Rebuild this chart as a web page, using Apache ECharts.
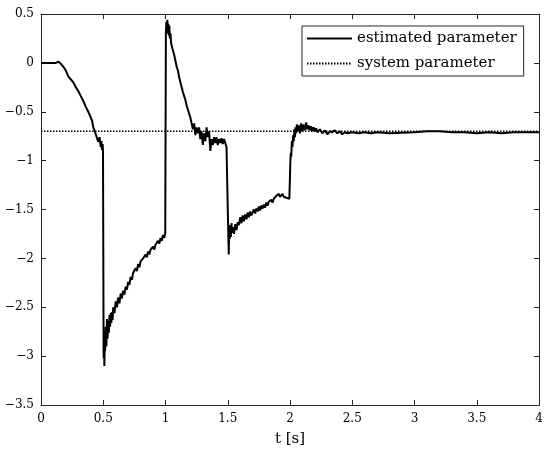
<!DOCTYPE html>
<html>
<head>
<meta charset="utf-8">
<script src="https://cdn.jsdelivr.net/npm/echarts@6/dist/echarts.min.js"></script>
<style>
  html, body { margin: 0; padding: 0; background: #fff; }
  #ec { width: 550px; height: 457px; }
</style>
</head>
<body>
<div id="ec"></div>
<script>
  // time samples [s]
  var tSec = [
    0, 0.05, 0.1, 0.12, 0.13, 0.14, 0.15, 0.16, 0.17, 0.18, 0.19,
    0.20, 0.21, 0.22, 0.23, 0.24, 0.25, 0.26, 0.27, 0.28, 0.29,
    0.30, 0.31, 0.32, 0.33, 0.34, 0.35, 0.36, 0.37, 0.38, 0.39,
    0.40, 0.41, 0.42, 0.43, 0.44, 0.45, 0.46, 0.47, 0.48, 0.485, 0.49, 0.495, 0.498,
    0.503, 0.506, 0.509, 0.512, 0.515, 0.52, 0.525, 0.53, 0.535, 0.54, 0.545, 0.55, 0.555,
    0.56, 0.565, 0.57, 0.575, 0.58, 0.59,
    0.60, 0.61, 0.62, 0.63, 0.64, 0.65, 0.66, 0.67, 0.68, 0.69,
    0.70, 0.71, 0.72, 0.73, 0.74, 0.75, 0.76, 0.77, 0.78, 0.79,
    0.80, 0.81, 0.82, 0.83, 0.84, 0.85, 0.86, 0.87, 0.88, 0.89,
    0.90, 0.91, 0.92, 0.93, 0.94, 0.95, 0.96, 0.97, 0.98, 0.99, 0.998,
    1.003, 1.007, 1.011, 1.015, 1.019, 1.023, 1.027, 1.031, 1.035, 1.04, 1.045, 1.05, 1.055,
    1.06, 1.07, 1.08, 1.09, 1.10, 1.11, 1.12, 1.13, 1.14, 1.15, 1.16, 1.17, 1.18, 1.19,
    1.20, 1.21, 1.22, 1.23, 1.24, 1.25, 1.26, 1.27, 1.28, 1.29,
    1.30, 1.31, 1.32, 1.33, 1.34, 1.35, 1.36, 1.37, 1.38, 1.39,
    1.40, 1.41, 1.42, 1.43, 1.44, 1.45, 1.46, 1.47, 1.48, 1.49, 1.498,
    1.505, 1.508, 1.512, 1.516, 1.52, 1.525, 1.53, 1.535, 1.54, 1.55, 1.56, 1.57, 1.58, 1.59,
    1.60, 1.61, 1.62, 1.63, 1.64, 1.65, 1.66, 1.67, 1.68, 1.69,
    1.70, 1.71, 1.72, 1.73, 1.74, 1.75, 1.76, 1.77, 1.78, 1.79,
    1.80, 1.81, 1.82, 1.83, 1.84, 1.85, 1.86, 1.87, 1.88, 1.89,
    1.90, 1.91, 1.92, 1.93, 1.94, 1.95, 1.96, 1.97, 1.98, 1.995,
    2.002, 2.006, 2.01, 2.015, 2.02, 2.025, 2.03, 2.035, 2.04, 2.045, 2.05, 2.055,
    2.06, 2.07, 2.08, 2.09, 2.10, 2.11, 2.12, 2.13, 2.14, 2.15, 2.16, 2.17, 2.18, 2.19,
    2.20, 2.21, 2.22, 2.24, 2.26, 2.28, 2.30, 2.32, 2.34, 2.36, 2.38,
    2.40, 2.42, 2.44, 2.46, 2.5, 2.55, 2.6, 2.65, 2.7, 2.8, 2.9,
    3.0, 3.1, 3.2, 3.3, 3.4, 3.5, 3.6, 3.7, 3.8, 3.9, 4.0
  ]

  // estimated parameter
  var estParam = [
    0, 0, 0, 0, 0.005, 0.012, 0.0, -0.01, -0.03, -0.04, -0.06,
    -0.08, -0.10, -0.14, -0.12, -0.17, -0.16, -0.20, -0.21, -0.25, -0.24,
    -0.29, -0.30, -0.34, -0.35, -0.39, -0.41, -0.45, -0.46, -0.50, -0.52,
    -0.56, -0.59, -0.66, -0.69, -0.73, -0.74, -0.81, -0.76, -0.86, -0.80, -0.89, -0.83, -0.90,
    -3.02, -2.75, -3.10, -2.85, -2.95, -2.70, -2.90, -2.62, -2.82, -2.64, -2.76, -2.58, -2.70,
    -2.56, -2.66, -2.55, -2.63, -2.50, -2.56,
    -2.44, -2.50, -2.40, -2.46, -2.36, -2.41, -2.33, -2.37, -2.29, -2.32,
    -2.24, -2.27, -2.19, -2.22, -2.15, -2.17, -2.10, -2.13, -2.06, -2.09,
    -2.03, -2.05, -2.00, -2.02, -1.96, -1.99, -1.93, -1.96, -1.91, -1.93,
    -1.88, -1.91, -1.86, -1.88, -1.82, -1.85, -1.79, -1.82, -1.76, -1.79, -1.74,
    0.30, 0.42, 0.35, 0.44, 0.30, 0.40, 0.28, 0.38, 0.25, 0.30, 0.20, 0.22, 0.15,
    0.14, 0.08, 0.02, -0.04, -0.08, -0.15, -0.20, -0.25, -0.30, -0.34, -0.38, -0.44, -0.48, -0.52,
    -0.56, -0.62, -0.68, -0.62, -0.74, -0.66, -0.72, -0.66, -0.78, -0.70,
    -0.84, -0.72, -0.80, -0.66, -0.76, -0.70, -0.90, -0.78, -0.84, -0.76,
    -0.82, -0.76, -0.84, -0.78, -0.82, -0.77, -0.83, -0.78, -0.82, -0.86, -0.84,
    -1.80, -1.96, -1.66, -1.80, -1.70, -1.78, -1.64, -1.74, -1.68, -1.75, -1.65, -1.71, -1.63, -1.66,
    -1.58, -1.64, -1.56, -1.62, -1.55, -1.60, -1.53, -1.58, -1.52, -1.56,
    -1.53, -1.50, -1.54, -1.49, -1.52, -1.47, -1.51, -1.46, -1.49, -1.45,
    -1.48, -1.43, -1.46, -1.42, -1.44, -1.40, -1.43, -1.39, -1.41, -1.36,
    -1.38, -1.34, -1.37, -1.35, -1.34, -1.37, -1.35, -1.38, -1.36, -1.39,
    -1.05, -0.92, -0.96, -0.80, -0.86, -0.74, -0.80, -0.68, -0.76, -0.66, -0.72, -0.63,
    -0.70, -0.64, -0.72, -0.62, -0.70, -0.63, -0.69, -0.61, -0.68, -0.64, -0.69, -0.65, -0.70, -0.66,
    -0.70, -0.67, -0.71, -0.68, -0.72, -0.69, -0.73, -0.70, -0.71, -0.69, -0.72,
    -0.70, -0.73, -0.71, -0.72, -0.71, -0.72, -0.71, -0.72, -0.71, -0.72, -0.715,
    -0.71, -0.70, -0.70, -0.71, -0.71, -0.72, -0.71, -0.72, -0.71, -0.71, -0.71
  ]

  // true system parameter (constant)
  var sysT = [0, 4]
  var sysParam = [-0.7, -0.7]

  var xTicks = { min: 0, max: 4, step: 0.5 }
  var yTicks = { min: -3.5, max: 0.5, step: 0.5 }

  function pairs(xs, ys) {
    return xs.map(function (x, i) { return [x, ys[i]] })
  }

  var axisColor = '#262626'
  var serif = 'DejaVu Serif'
  function minus(v) { return String(v).replace('-', '\u2212') }

  var ec = echarts.init(document.getElementById('ec'))
  ec.setOption({
    animation: false,
    backgroundColor: '#fff',
    grid: { left: 41, right: 11, top: 14, bottom: 52 },
    legend: {
      orient: 'vertical',
      left: 302,
      top: 26,
      padding: [5, 7, 5, 4],
      itemWidth: 45,
      itemHeight: 14,
      itemGap: 10,
      backgroundColor: '#fff',
      borderColor: axisColor,
      borderWidth: 1,
      itemStyle: { opacity: 0 },
      textStyle: { fontFamily: serif, fontSize: 15, color: '#000' },
      data: ['estimated parameter', 'system parameter']
    },
    xAxis: [{
      type: 'value',
      min: xTicks.min, max: xTicks.max, interval: xTicks.step,
      name: 't [s]',
      nameLocation: 'middle',
      nameGap: 27,
      nameTextStyle: { fontFamily: serif, fontSize: 15, color: '#000' },
      axisLine: { onZero: false, lineStyle: { color: axisColor } },
      axisTick: { inside: true, length: 5, lineStyle: { color: axisColor } },
      axisLabel: { fontFamily: serif, fontSize: 12, color: '#000', margin: 8 },
      splitLine: { show: false }
    }, {
      type: 'value', position: 'top',
      min: xTicks.min, max: xTicks.max, interval: xTicks.step,
      axisLine: { onZero: false, lineStyle: { color: axisColor } },
      axisTick: { inside: true, length: 5, lineStyle: { color: axisColor } },
      axisLabel: { show: false },
      splitLine: { show: false }
    }],
    yAxis: [{
      type: 'value',
      min: yTicks.min, max: yTicks.max, interval: yTicks.step,
      axisLine: { show: true, onZero: false, lineStyle: { color: axisColor } },
      axisTick: { show: true, inside: true, length: 5, lineStyle: { color: axisColor } },
      axisLabel: { fontFamily: serif, fontSize: 12, color: '#000', margin: 7, formatter: minus },
      splitLine: { show: false }
    }, {
      type: 'value', position: 'right',
      min: yTicks.min, max: yTicks.max, interval: yTicks.step,
      axisLine: { show: true, onZero: false, lineStyle: { color: axisColor } },
      axisTick: { show: true, inside: true, length: 5, lineStyle: { color: axisColor } },
      axisLabel: { show: false },
      splitLine: { show: false }
    }],
    series: [{
      name: 'system parameter',
      type: 'line',
      data: pairs(sysT, sysParam),
      symbol: 'none',
      z: 3,
      lineStyle: { color: '#000', width: 1.5, type: [1.5, 1.5] },
      itemStyle: { color: '#000' }
    }, {
      name: 'estimated parameter',
      type: 'line',
      data: pairs(tSec, estParam),
      symbol: 'none',
      z: 2,
      lineStyle: { color: '#000', width: 2 },
      itemStyle: { color: '#000' }
    }]
  })
</script>
</body>
</html>
